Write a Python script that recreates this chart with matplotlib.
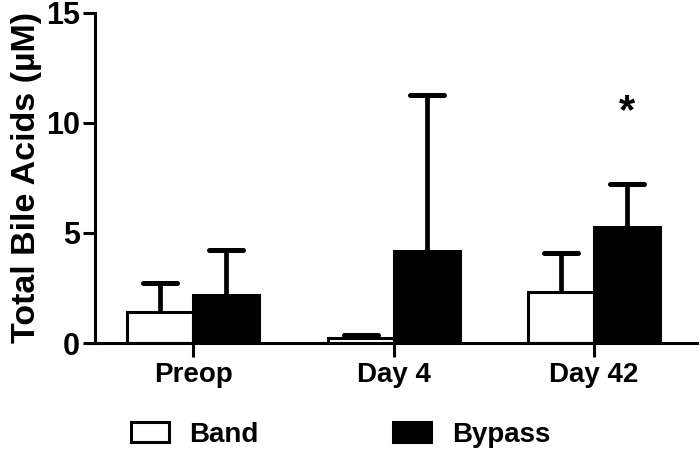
import numpy as np
import matplotlib.pyplot as plt

plt.rcParams['font.family'] = ['Liberation Sans', 'DejaVu Sans']
plt.rcParams['font.weight'] = 'bold'

# data
groups = ['Preop', 'Day 4', 'Day 42']
band_mean = [1.42, 0.22, 2.32]
band_err = [1.31, 0.13, 1.77]
bypass_mean = [2.18, 4.18, 5.27]
bypass_err = [2.05, 7.1, 1.96]
star_y = 10.5

fig = plt.figure(figsize=(7, 4.58), dpi=100)
ax = fig.add_axes([0.136, 0.251, 0.86, 0.721])

x = np.arange(len(groups))
w = 0.33
lw = 2.2
cap_half = 0.085

ax.bar(x - w / 2, band_mean, w, color='white', edgecolor='black', linewidth=lw,
       label='Band', zorder=2)
ax.bar(x + w / 2, bypass_mean, w, color='black', edgecolor='black', linewidth=lw,
       label='Bypass', zorder=2)

# upward-only error bars with round-ended caps
for xs, m, e in [(x - w / 2, band_mean, band_err), (x + w / 2, bypass_mean, bypass_err)]:
    top = np.array(m) + np.array(e)
    ax.vlines(xs, m, top, color='black', linewidth=3.4, zorder=3)
    ax.hlines(top, xs - cap_half, xs + cap_half, color='black', linewidth=3.6,
              capstyle='round', zorder=3)

ax.text(x[2] + w / 2, star_y, '*', ha='center', va='center', fontsize=30,
        fontweight='bold')

ax.set_ylim(0, 15)
ax.set_xlim(-0.49, 2.515)
ax.set_yticks([0, 5, 10, 15])
ax.set_xticks(x)
ax.set_xticklabels(groups, fontsize=20, fontweight='bold')
ax.tick_params(axis='y', labelsize=22, width=lw, length=9, pad=2)
ax.tick_params(axis='x', width=lw, length=10, pad=4)
for lab in ax.get_yticklabels():
    lab.set_fontweight('bold')
ax.set_ylabel('Total Bile Acids (µM)', fontsize=24.5, fontweight='bold', labelpad=3)

for s in ['top', 'right']:
    ax.spines[s].set_visible(False)
for s in ['left', 'bottom']:
    ax.spines[s].set_linewidth(lw)

fig.legend(loc='center left', bbox_to_anchor=(131 / 700, 1 - 435 / 458), ncol=2,
           frameon=False, handlelength=1.35, handleheight=0.75, columnspacing=4.85,
           handletextpad=0.75, borderpad=0, borderaxespad=0,
           prop={'weight': 'bold', 'size': 20})

fig.savefig('out.png', dpi=100)
